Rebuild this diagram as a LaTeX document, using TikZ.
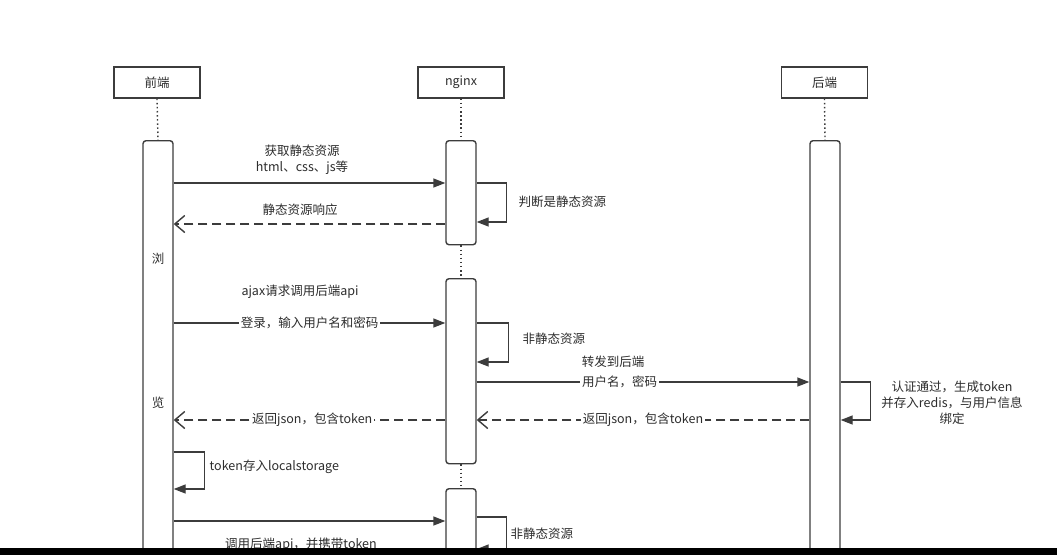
\documentclass[tikz,border=0pt]{standalone}
\usepackage{fontspec}
\setmainfont{Noto Sans CJK SC}
\usepackage{xcolor}
\usetikzlibrary{arrows.meta,positioning}
\definecolor{ink}{RGB}{60,60,60}
\definecolor{lbl}{RGB}{45,45,45}

\begin{document}
\begin{tikzpicture}[x=1pt,y=-1pt,line width=1.4pt,color=ink,font=\fontsize{12.5}{16}\selectfont,
    head/.style={draw,fill=white,minimum width=86pt,minimum height=31pt,inner sep=0pt,text=lbl},
    actbar/.style={draw,fill=white,rounded corners=3pt,minimum width=30pt,anchor=north,inner sep=0pt},
    life/.style={dash pattern=on 1.5pt off 2.6pt},
    call/.style={-{Triangle[length=12pt,width=9pt]}},
    reply/.style={dash pattern=on 9pt off 5pt,-{Straight Barb[length=10pt,width=17pt]}},
    txt/.style={text=lbl,inner sep=0pt},
    online/.style={txt,fill=white,inner xsep=2pt,inner ysep=1pt}]
    \useasboundingbox (0,0) rectangle (1057,555);
    \fill[white] (0,0) rectangle (1057,555);
    % participants
    \node[head] (fe) at (157,82.5) {前端};
    \node[head] (ng) at (461,82.5) {nginx};
    \node[head] (be) at (824.5,82.5) {后端};
    % activation bars
    \node[actbar,minimum height=412pt] (feA) at (158,140) {};
    \node[actbar,minimum height=104pt] (ngA) at (461,140) {};
    \node[actbar,minimum height=185pt] (ngB) at (461,278) {};
    \node[actbar,minimum height=64pt]  (ngC) at (461,488) {};
    \node[actbar,minimum height=412pt] (beA) at (825,140) {};
    \draw[life] (fe.south) -- (feA.north);
    \draw[life] (ng.south) -- (ngA.north);
    \draw[life] (ngA.south) -- (ngB.north);
    \draw[life] (ngB.south) -- (ngC.north);
    \draw[life] (be.south) -- (beA.north);
    \node[txt] (liu) at (158,259) {浏};
    \node[txt] (lan) at (158,403) {览};
    % message rows
    \foreach \n/\y in {r1/183,r2/222,r3/224,r4/323,r5/362,r6/382,r7/420,r8/452,r9/489,r10/521,r11/517,r12/549}
      \coordinate (\n) at (0,\y);
    % static resources
    \draw[call] (feA.east |- r1) -- (ngA.west |- r1);
    \node[txt,align=center] (l1) at (302,160) {获取静态资源\\html、css、js等};
    \draw[call] (ngA.east |- r1) -- ++(30,0) |- (ngA.east |- r2);
    \node[txt,anchor=west] (l2) at (518,202) {判断是静态资源};
    \draw[reply] (ngA.west |- r3) -- (feA.east |- r3);
    \node[txt] (l3) at (300,210) {静态资源响应};
    % login
    \node[txt] (l4) at (300,292) {ajax请求调用后端api};
    \draw[call] (feA.east |- r4) -- (ngB.west |- r4)
      node[online,pos=0.5] (l5) {登录，输入用户名和密码};
    \draw[call] (ngB.east |- r4) -- ++(32,0) |- (ngB.east |- r5);
    \node[txt,anchor=west] (l6) at (522,339) {非静态资源};
    \draw[call] (ngB.east |- r6) -- (beA.west |- r6)
      node[online,pos=0.43] (l7) {用户名，密码};
    \node[txt] (l8) at (613,362) {转发到后端};
    \draw[call] (beA.east |- r6) -- ++(30,0) |- (beA.east |- r7);
    \node[txt,align=center] (l9) at (952,403) {认证通过，生成token\\并存入redis，与用户信息\\绑定};
    \draw[reply] (beA.west |- r7) -- (ngB.east |- r7)
      node[online,pos=0.5] (l10) {返回json，包含token};
    \draw[reply] (ngB.west |- r7) -- (feA.east |- r7)
      node[online,pos=0.49] (l11) {返回json，包含token};
    \draw[call] (feA.east |- r8) -- ++(31,0) |- (feA.east |- r9);
    \node[txt,anchor=west] (l12) at (209,467) {token存入localstorage};
    % call with token
    \draw[call] (feA.east |- r10) -- (ngC.west |- r10);
    \node[txt] (l13) at (301,545) {调用后端api，并携带token};
    \draw[call] (ngC.east |- r11) -- ++(30,0) |- (ngC.east |- r12);
    \node[txt,anchor=west] (l14) at (510,534) {非静态资源};
    % cut-off edge
    \fill[black] (0,548) rectangle (1057,555);
\end{tikzpicture}
\end{document}
